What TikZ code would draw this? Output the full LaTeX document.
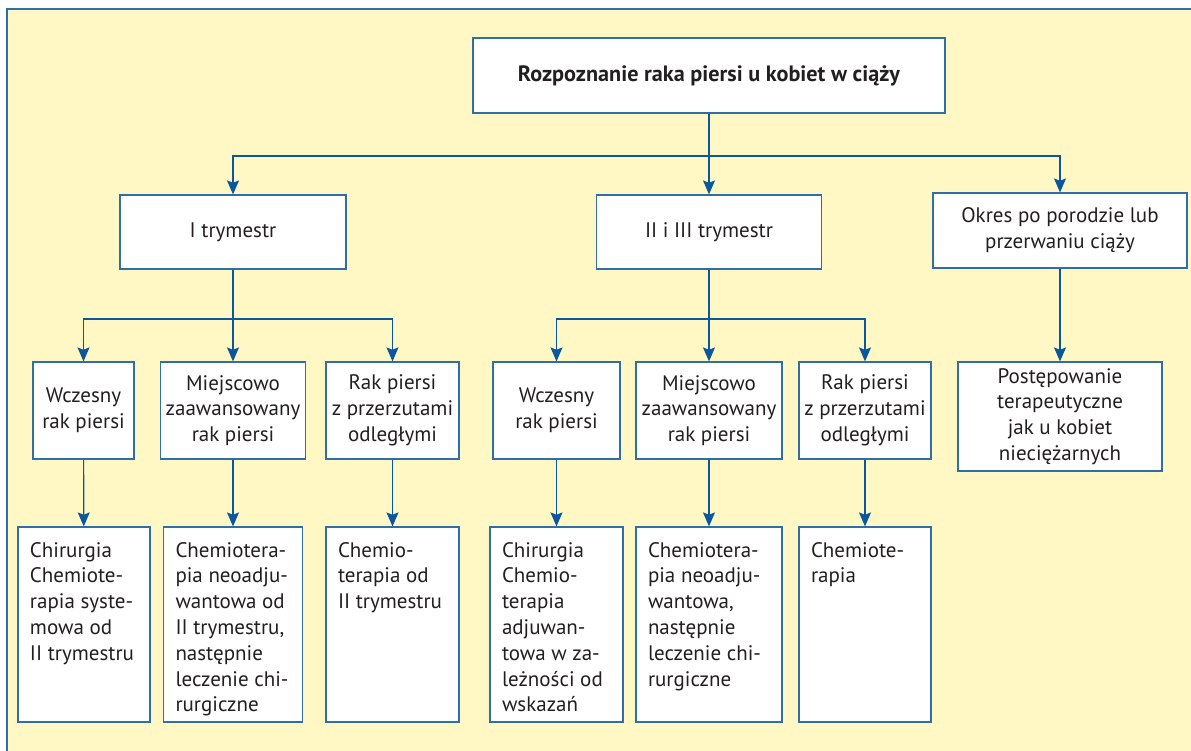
\documentclass[tikz,border=0pt]{standalone}
\usepackage{fontspec}
\setmainfont{PT Sans}
\usepackage{xcolor}
\usepackage{tikz}
\usetikzlibrary{arrows.meta, positioning}

\definecolor{panel}{HTML}{FFF8C5}
\definecolor{frame}{HTML}{2F6EA6}
\definecolor{arrowblue}{HTML}{0B579E}
\definecolor{ink}{HTML}{231F20}

\newcommand{\toplines}[3]{\parbox[c][#2][t]{#1}{\begin{tabular}[t]{@{}l@{}}#3\end{tabular}}}

\tikzset{
    box/.style={draw=frame, fill=white, line width=0.6pt, inner sep=0pt,
        align=center, text=ink, font=\fontsize{10.5}{12.9}\selectfont},
    boxsize/.style 2 args={minimum width=#1*0.5pt, minimum height=#2*0.5pt},
    cell/.style={box, inner sep=6pt},
    link/.style={draw=arrowblue, line width=0.6pt},
    arrow/.style={link, -{Stealth[width=6pt, length=7pt, inset=1.2pt]}},
}

\begin{document}
\begin{tikzpicture}[x=0.5pt, y=-0.5pt]
        \useasboundingbox (0,0) rectangle (1191,751);
        \fill[panel] (7,9) rectangle (1191,751);
        \draw[frame, line width=0.8pt] (7,751) -- (7,9) -- (1191,9);

        \node[box, boxsize={472}{75}, font=\fontsize{11.1}{13}\selectfont\bfseries] (diag) at (709,75.5)
            {Rozpoznanie raka piersi u kobiet w ciąży};

        \node[box, boxsize={226}{74}]  (tri1)   at (233,232)   {I trymestr};
        \node[box, boxsize={225}{74}]  (tri23)  at (709,232)   {II i III trymestr};
        \node[box, boxsize={254}{75}]  (okres)  at (1060,230.5) {Okres po porodzie lub\\przerwaniu ciąży};
        \node[box, boxsize={204}{109}] (post)   at (1060,416.5) {Postępowanie\\terapeutyczne\\jak u kobiet\\niecię\.zarnych};

        \node[box, boxsize={101}{97}]  (early1) at (83.5,410.5)  {Wczesny\\rak piersi};
        \node[box, boxsize={145}{97}]  (local1) at (233,410.5)   {Miejscowo\\zaawansowany\\rak piersi};
        \node[box, boxsize={133}{97}]  (meta1)  at (392.5,410.5) {Rak piersi\\z przerzutami\\odległymi};
        \node[box, boxsize={127}{97}]  (early2) at (556.5,410.5) {Wczesny\\rak piersi};
        \node[box, boxsize={146}{97}]  (local2) at (709,410.5)   {Miejscowo\\zaawansowany\\rak piersi};
        \node[box, boxsize={132}{97}]  (meta2)  at (865,410.5)   {Rak piersi\\z przerzutami\\odległymi};

        \node[cell, boxsize={132}{195}] (therEarly1) at (84,624.5)
            {\toplines{54pt}{85.5pt}{Chirurgia\\Chemiote-\\rapia syste-\\mowa od\\II trymestru}};
        \node[cell, boxsize={139}{195}] (therLocal1) at (233,624.5)
            {\toplines{57.5pt}{85.5pt}{Chemiotera-\\pia neoadju-\\wantowa od\\II trymestru,\\następnie\\leczenie chi-\\rurgiczne}};
        \node[cell, boxsize={133}{195}] (therMeta1) at (392.5,624.5)
            {\toplines{54.5pt}{85.5pt}{Chemio-\\terapia od\\II trymestru}};
        \node[cell, boxsize={133}{195}] (therEarly2) at (556.5,624.5)
            {\toplines{54.5pt}{85.5pt}{Chirurgia\\Chemio-\\terapia\\adjuwan-\\towa w za-\\leżności od\\wskazań}};
        \node[cell, boxsize={146}{195}] (therLocal2) at (709,624.5)
            {\toplines{61pt}{85.5pt}{Chemiotera-\\pia neoadju-\\wantowa,\\następnie\\leczenie chi-\\rurgiczne}};
        \node[cell, boxsize={132}{195}] (therMeta2) at (865,624.5)
            {\toplines{54pt}{85.5pt}{Chemiote-\\rapia}};

        \coordinate (fork0) at (709,156);
        \coordinate (fork1) at (233,319);
        \coordinate (fork2) at (709,319);

        % diagnosis -> trimesters
        \draw[link]  (diag) -- (fork0);
        \draw[arrow] (fork0) -| (tri1);
        \draw[arrow] (fork0) -- (tri23);
        \draw[arrow] (fork0) -| (okres);
        \draw[arrow] (okres) -- (post);

        % I trymestr
        \draw[link]  (tri1) -- (fork1);
        \draw[arrow] (fork1) -| (early1);
        \draw[arrow] (fork1) -- (local1);
        \draw[arrow] (fork1) -| (meta1);

        % II i III trymestr
        \draw[link]  (tri23) -- (fork2);
        \draw[arrow] (fork2) -| (early2);
        \draw[arrow] (fork2) -- (local2);
        \draw[arrow] (fork2) -| (meta2);

        % treatment
        \draw[arrow] (early1) -- (therEarly1);
        \draw[arrow] (local1) -- (therLocal1);
        \draw[arrow] (meta1)  -- (therMeta1);
        \draw[arrow] (early2) -- (therEarly2);
        \draw[arrow] (local2) -- (therLocal2);
        \draw[arrow] (meta2)  -- (therMeta2);
\end{tikzpicture}
\end{document}
